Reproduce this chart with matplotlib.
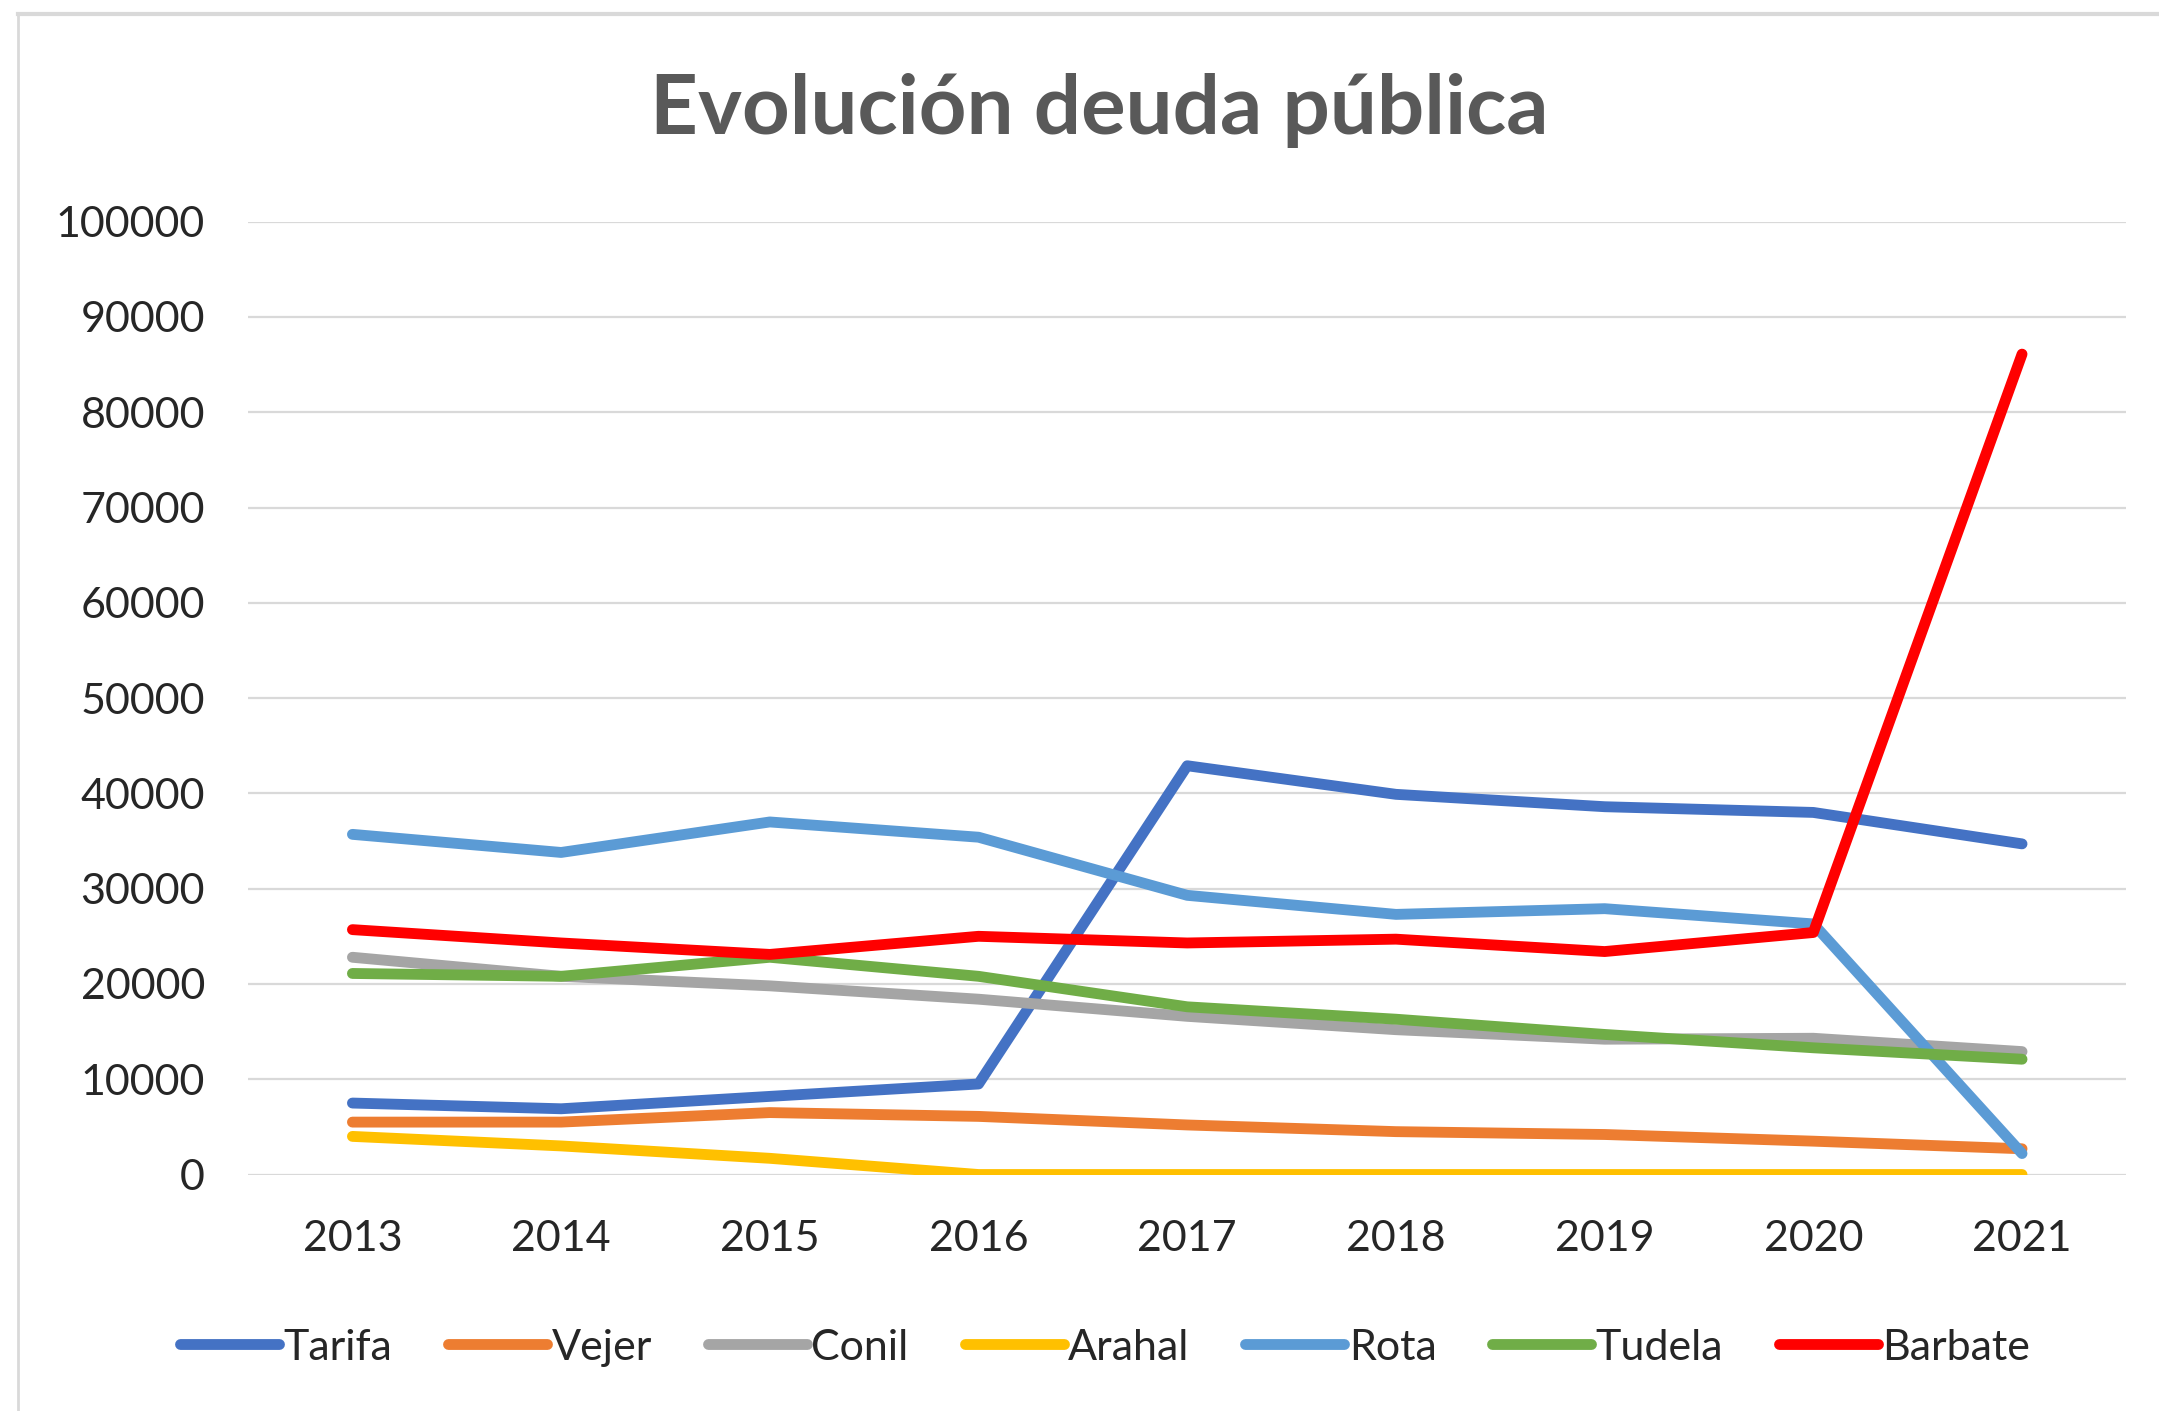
import matplotlib
matplotlib.use("Agg")
import matplotlib.pyplot as plt
from matplotlib.lines import Line2D

# -----------------------------
# DONNEES
# -----------------------------
years = ["2013", "2014", "2015", "2016", "2017", "2018", "2019", "2020", "2021"]

tarifa = [7500, 6900, 8200, 9500, 42900, 39900, 38600, 38000, 34700]
vejer = [5500, 5500, 6500, 6100, 5200, 4500, 4200, 3500, 2700]
conil = [22800, 20800, 19800, 18400, 16600, 15200, 14200, 14300, 12900]
arahal = [4000, 3000, 1700, 0, 0, 0, 0, 0, 0]
rota = [35700, 33800, 37000, 35400, 29300, 27300, 27900, 26300, 2200]
tudela = [21100, 20800, 22800, 20800, 17600, 16300, 14700, 13300, 12100]
barbate = [25700, 24300, 23100, 25000, 24300, 24700, 23400, 25400, 86100]

names = ["Tarifa", "Vejer", "Conil", "Arahal", "Rota", "Tudela", "Barbate"]
series = [tarifa, vejer, conil, arahal, rota, tudela, barbate]
colors = ["#4472C4", "#ED7D31", "#A5A5A5", "#FFC000", "#5B9BD5", "#70AD47", "#FF0000"]

yticks = list(range(0, 100001, 10000))

# -----------------------------
# FIGURE
# -----------------------------
plt.rcParams['font.family'] = ['Lato', 'DejaVu Sans']

fig = plt.figure(figsize=(21.59, 14.11), dpi=100)
ax = fig.add_axes([0.1149, 0.1676, 0.870, 0.6753])

x = range(len(years))
for name, vals, c in zip(names, series, colors):
    ax.plot(x, vals, color=c, linewidth=7.8, solid_capstyle='round',
            solid_joinstyle='round', label=name)

ax.set_xlim(-0.5, len(years) - 0.5)
ax.set_ylim(0, 100000)
ax.set_xticks(list(x))
ax.set_xticklabels(years)
ax.set_yticks(yticks)
ax.set_yticklabels([str(v) for v in yticks])
ax.tick_params(axis='both', length=0, labelsize=31, colors='#262626')
ax.tick_params(axis='y', pad=31)
ax.tick_params(axis='x', pad=33)

ax.grid(axis='y', color='#D9D9D9', linewidth=1.6)
ax.set_axisbelow(True)
for s in ax.spines.values():
    s.set_visible(False)

fig.text(0.509, 0.922, "Evolución deuda pública", ha='center', va='center',
         fontsize=60, fontweight='bold', color='#595959')

handles = [Line2D([0], [0], color=c, linewidth=7.8, solid_capstyle='round') for c in colors]
fig.legend(handles, names, loc='center', bbox_to_anchor=(0.512, 0.045), ncol=7,
           frameon=False, fontsize=31, handlelength=2.3, handletextpad=0.1,
           columnspacing=1.3, labelcolor='#262626')

# cadre gris du graphique
fig.add_artist(Line2D([0.0083, 1.0], [0.990, 0.990], color='#D9D9D9', linewidth=3,
                      transform=fig.transFigure))
fig.add_artist(Line2D([0.0083, 0.0083], [0.0, 0.990], color='#D9D9D9', linewidth=2,
                      transform=fig.transFigure))

fig.savefig("out.png", dpi=100, facecolor='white')
